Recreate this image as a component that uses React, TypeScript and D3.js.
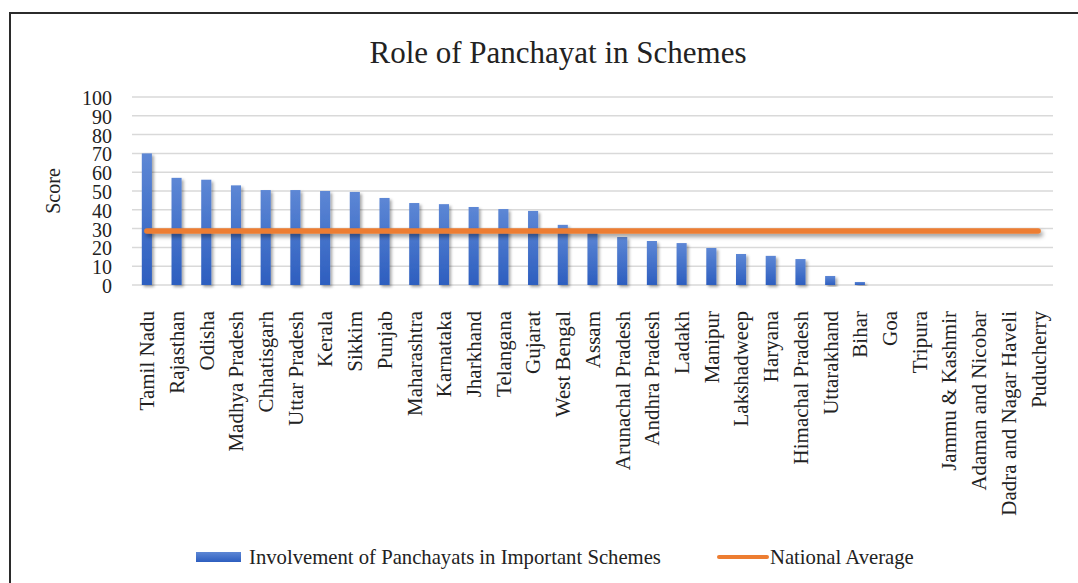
import React from "react";
import * as d3 from "d3";

const categories = [
  "Tamil Nadu", "Rajasthan", "Odisha", "Madhya Pradesh", "Chhatisgarh", "Uttar Pradesh",
  "Kerala", "Sikkim", "Punjab", "Maharashtra", "Karnataka", "Jharkhand", "Telangana",
  "Gujarat", "West Bengal", "Assam", "Arunachal Pradesh", "Andhra Pradesh", "Ladakh",
  "Manipur", "Lakshadweep", "Haryana", "Himachal Pradesh", "Uttarakhand", "Bihar", "Goa",
  "Tripura", "Jammu & Kashmir", "Adaman and Nicobar", "Dadra and Nagar Haveli", "Puducherry",
];
const involvement = [
  70, 57, 56, 53, 50.5, 50.5, 50, 49.5, 46.3, 43.6, 43, 41.5, 40.4, 39.4, 32, 28, 25.5,
  23.4, 22.3, 19.7, 16.5, 15.5, 13.8, 4.8, 1.6, 0, 0, 0, 0, 0, 0,
];
const nationalAverage = categories.map(() => 28.7);
const yTicks = [0, 10, 20, 30, 40, 50, 60, 70, 80, 90, 100];

const title = "Role of Panchayat in Schemes";
const yTitle = "Score";
const seriesNames = ["Involvement of Panchayats in Important Schemes", "National Average"];

const W = 1078;
const H = 583;
const left = 132;
const right = 1053;
const top = 97;
const bottom = 285;
const font = "'Liberation Serif', 'Times New Roman', serif";

export default function App() {
  const x = d3
    .scaleBand<string>()
    .domain(categories)
    .range([left, right])
    .paddingInner(0.66)
    .paddingOuter(0.33);
  const y = d3.scaleLinear().domain([0, 100]).range([bottom, top]);
  const line = d3
    .line<number>()
    .x((_, i) => (x(categories[i]) as number) + x.bandwidth() / 2)
    .y((d) => y(d));

  return (
    <svg
      width={W}
      height={H}
      style={{ position: "absolute", left: 0, top: 0, background: "#fff" }}
      fontFamily={font}
    >
      <defs>
        <linearGradient id="barGrad" x1="0" y1="0" x2="0" y2="1">
          <stop offset="0%" stopColor="#5d87d5" />
          <stop offset="100%" stopColor="#2d5ebf" />
        </linearGradient>
        <filter id="shadow" x="-50%" y="-10%" width="200%" height="130%">
          <feDropShadow dx="2" dy="2" stdDeviation="1.8" floodColor="#000" floodOpacity="0.35" />
        </filter>
        <filter id="lineShadow" filterUnits="userSpaceOnUse" x={0} y={0} width={W} height={H}>
          <feDropShadow dx="2" dy="3" stdDeviation="2" floodColor="#000" floodOpacity="0.4" />
        </filter>
      </defs>
      <rect x={0} y={0} width={W} height={H} fill="#fff" />
      <rect x={10} y={13} width={1120} height={640} fill="none" stroke="#2b2b2b" strokeWidth={2} />

      <text x={558} y={52} textAnchor="middle" dominantBaseline="central" fontSize={31} fill="#222">
        {title}
      </text>

      {yTicks.map((t) => (
        <g key={t}>
          <line x1={left} x2={right} y1={y(t)} y2={y(t)} stroke="#d9d9d9" strokeWidth={1.5} />
          <text
            x={112}
            y={y(t) + 1}
            textAnchor="end"
            dominantBaseline="central"
            fontSize={20}
            fill="#222"
          >
            {t}
          </text>
        </g>
      ))}

      <text
        transform={`translate(53, ${(top + bottom) / 2}) rotate(-90)`}
        textAnchor="middle"
        dominantBaseline="central"
        fontSize={20}
        fill="#222"
      >
        {yTitle}
      </text>

      {categories.map((c, i) => {
        const v = involvement[i];
        if (v <= 0) return null;
        return (
          <rect
            key={c}
            x={x(c)}
            y={y(v)}
            width={x.bandwidth()}
            height={bottom - y(v)}
            fill="url(#barGrad)"
            filter="url(#shadow)"
          />
        );
      })}

      <path
        d={line(nationalAverage) || ""}
        fill="none"
        stroke="#ed7d31"
        strokeWidth={5.5}
        strokeLinecap="round"
        filter="url(#lineShadow)"
      />

      {categories.map((c) => (
        <text
          key={c}
          transform={`translate(${(x(c) as number) + x.bandwidth() / 2}, 311) rotate(-90)`}
          textAnchor="end"
          dy="0.35em"
          fontSize={21}
          fill="#222"
        >
          {c}
        </text>
      ))}

      <rect x={196} y={552} width={45} height={10} fill="url(#barGrad)" />
      <text x={249} y={557} dominantBaseline="central" fontSize={20.7} fill="#222">
        {seriesNames[0]}
      </text>
      <line x1={719} x2={767} y1={557} y2={557} stroke="#ed7d31" strokeWidth={4} strokeLinecap="round" />
      <text x={770} y={557} dominantBaseline="central" fontSize={20.7} fill="#222">
        {seriesNames[1]}
      </text>
    </svg>
  );
}
